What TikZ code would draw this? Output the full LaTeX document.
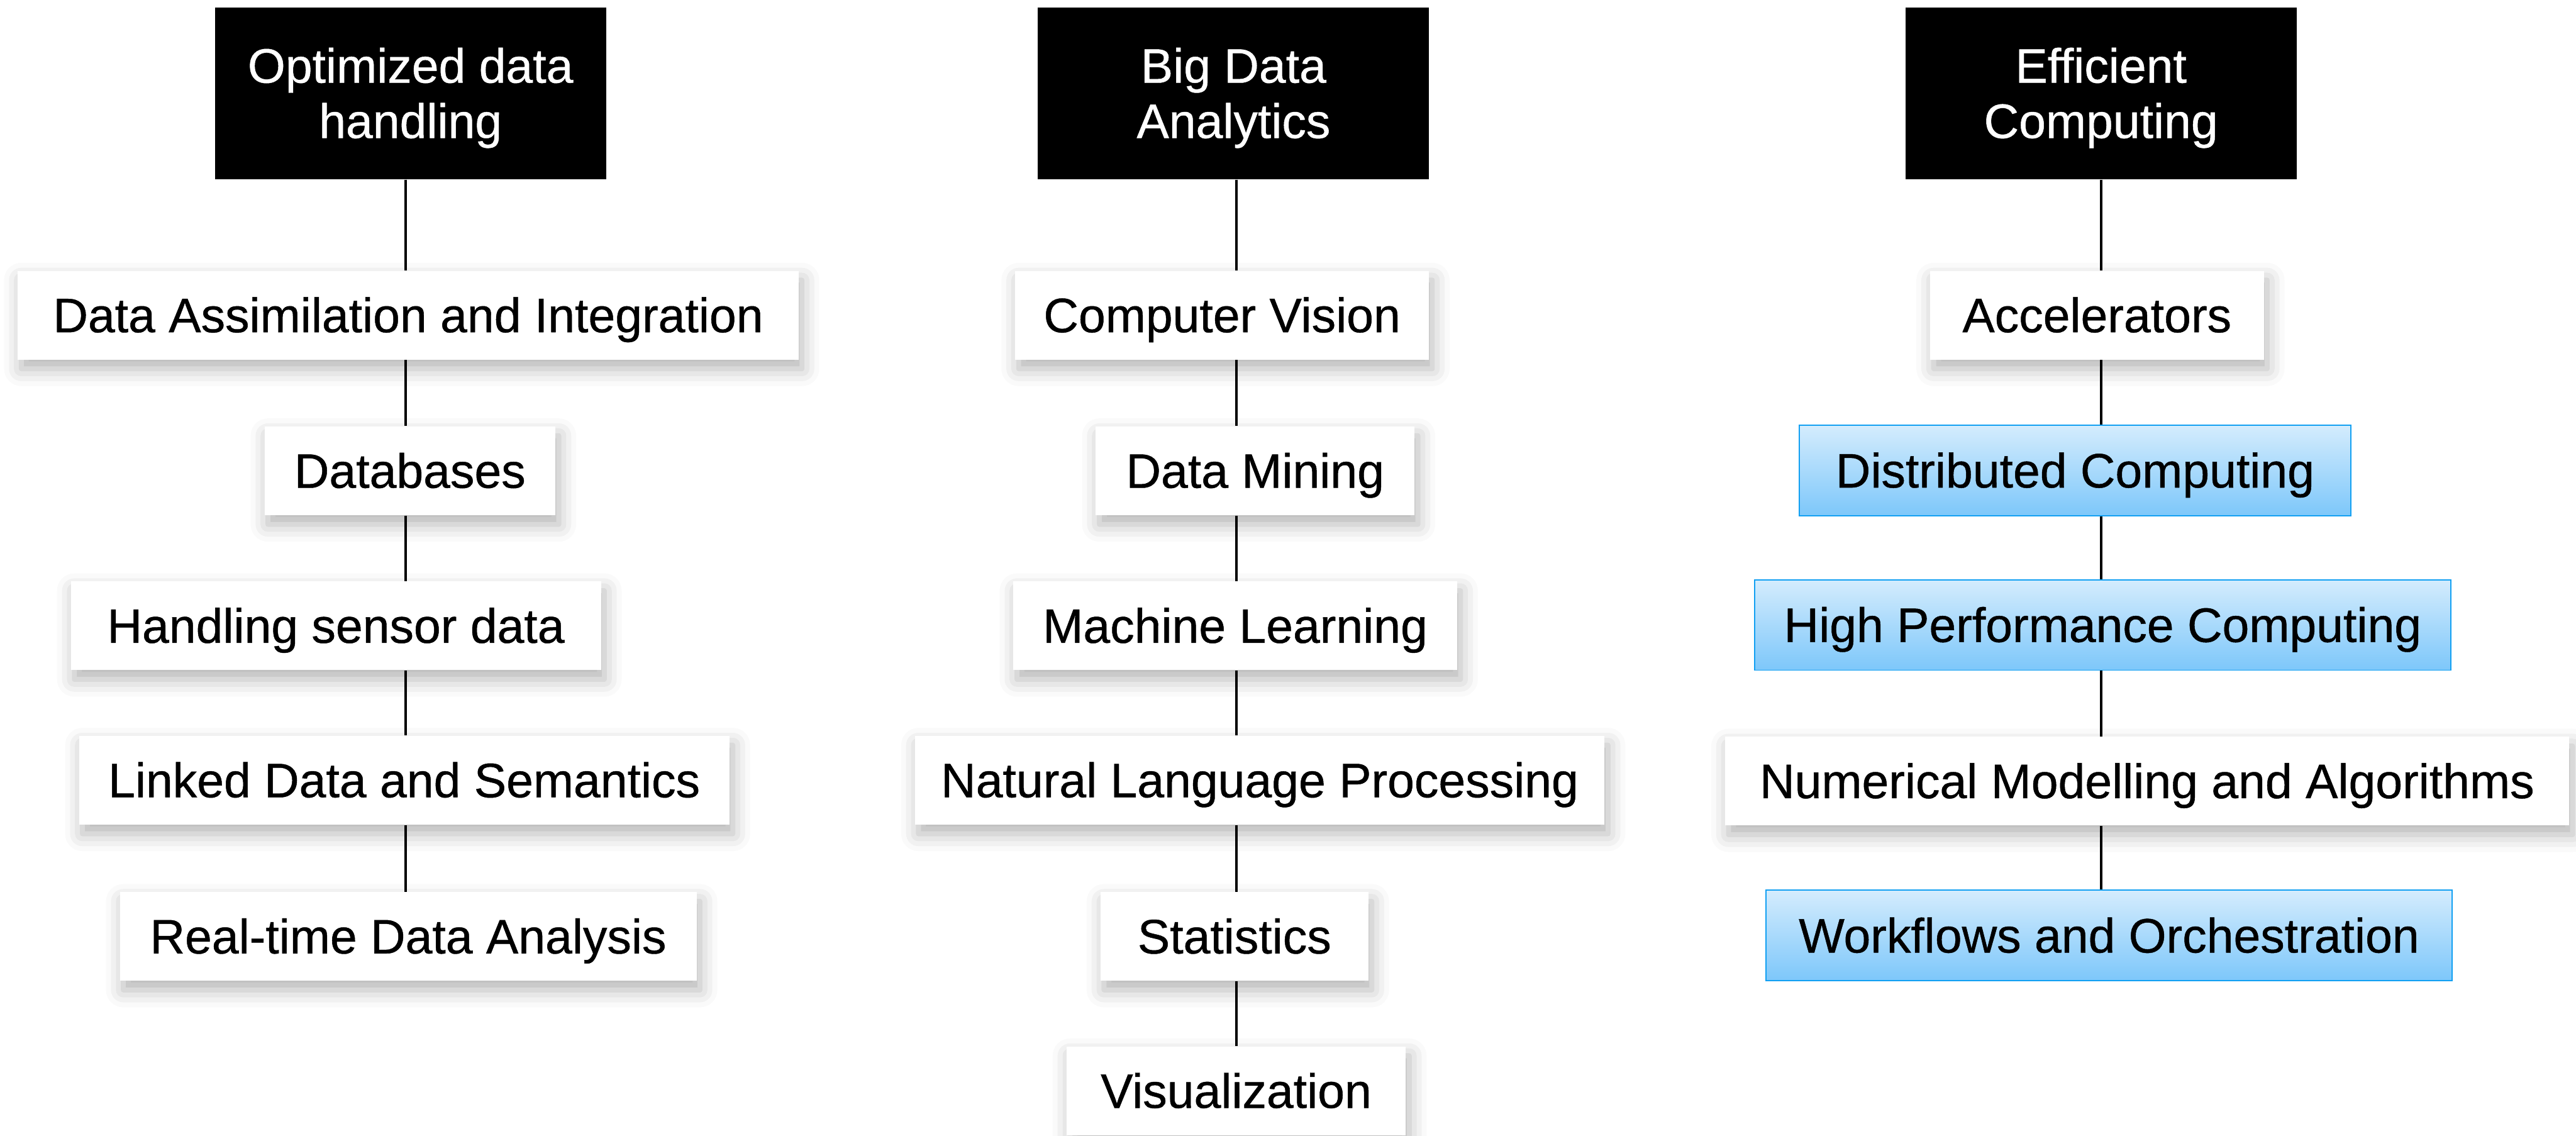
\documentclass[tikz,border=0pt]{standalone}
\usepackage{fontspec}
\setmainfont{Liberation Sans}[FakeBold=0.6]
\usetikzlibrary{shadows.blur}

\definecolor{hlTop}{HTML}{D4ECFD}
\definecolor{hlBot}{HTML}{7DC7FA}
\definecolor{hlEdge}{HTML}{12A0F2}

\tikzset{
  boxfont/.style={font=\fontsize{23.9}{27.3}\selectfont},
  hdr/.style={boxfont, fill=black, text=white, align=center, inner sep=0pt,
    text height=1.55cm, text depth=0cm,
    minimum width=6.79cm, minimum height=2.98cm},
  itemtext/.style={boxfont, inner sep=0pt, text height=0.59cm, text depth=0cm},
  item/.style={itemtext, fill=white, minimum height=1.54cm,
    blur shadow={shadow xshift=0.06cm, shadow yshift=-0.16cm,
      shadow blur radius=0.3cm, shadow opacity=30}},
  hl/.style={itemtext, minimum height=1.57cm,
    top color=hlTop, bottom color=hlBot, draw=hlEdge, line width=0.6pt},
  link/.style={line width=1.15pt, black}
}

\begin{document}
\begin{tikzpicture}
\useasboundingbox (0,0) rectangle (44.71,-19.71);

% vertical guide x positions of the three columns
\coordinate (c1) at (7.04,0);
\coordinate (c2) at (21.46,0);
\coordinate (c3) at (36.47,0);

% column headers
\node[hdr] (h1) at (7.125,-1.62) {Optimized data\\handling};
\node[hdr] (h2) at (21.41,-1.62) {Big Data\\Analytics};
\node[hdr] (h3) at (36.465,-1.62) {Efficient\\Computing};

% column 1
\node[item, minimum width=13.55cm] (a1) at (7.085,-5.47) {Data Assimilation and Integration};
\node[item, minimum width=5.05cm]  (a2) at (7.115,-8.17) {Databases};
\node[item, minimum width=9.20cm]  (a3) at (5.83,-10.86) {Handling sensor data};
\node[item, minimum width=11.29cm] (a4) at (7.015,-13.54) {Linked Data and Semantics};
\node[item, minimum width=10.01cm] (a5) at (7.085,-16.25) {Real-time Data Analysis};

% column 2
\node[item, minimum width=7.18cm]  (b1) at (21.21,-5.47) {Computer Vision};
\node[item, minimum width=5.53cm]  (b2) at (21.785,-8.17) {Data Mining};
\node[item, minimum width=7.70cm]  (b3) at (21.44,-10.86) {Machine Learning};
\node[item, minimum width=11.97cm] (b4) at (21.865,-13.54) {Natural Language Processing};
\node[item, minimum width=4.65cm]  (b5) at (21.425,-16.25) {Statistics};
\node[item, minimum width=5.89cm]  (b6) at (21.455,-18.93) {Visualization};

% column 3
\node[item, minimum width=5.79cm]  (d1) at (36.395,-5.47) {Accelerators};
\node[hl, minimum width=9.57cm]    (d2) at (36.015,-8.165) {Distributed Computing};
\node[hl, minimum width=12.09cm]   (d3) at (36.495,-10.845) {High Performance Computing};
\node[item, minimum width=14.65cm] (d4) at (37.265,-13.555) {Numerical Modelling and Algorithms};
\node[hl, minimum width=11.91cm]   (d5) at (36.605,-16.235) {Workflows and Orchestration};

% connectors
\draw[link] (h1.south -| c1) -- (a1.north -| c1);
\draw[link] (a1.south -| c1) -- (a2.north -| c1);
\draw[link] (a2.south -| c1) -- (a3.north -| c1);
\draw[link] (a3.south -| c1) -- (a4.north -| c1);
\draw[link] (a4.south -| c1) -- (a5.north -| c1);

\draw[link] (h2.south -| c2) -- (b1.north -| c2);
\draw[link] (b1.south -| c2) -- (b2.north -| c2);
\draw[link] (b2.south -| c2) -- (b3.north -| c2);
\draw[link] (b3.south -| c2) -- (b4.north -| c2);
\draw[link] (b4.south -| c2) -- (b5.north -| c2);
\draw[link] (b5.south -| c2) -- (b6.north -| c2);

\draw[link] (h3.south -| c3) -- (d1.north -| c3);
\draw[link] (d1.south -| c3) -- (d2.north -| c3);
\draw[link] (d2.south -| c3) -- (d3.north -| c3);
\draw[link] (d3.south -| c3) -- (d4.north -| c3);
\draw[link] (d4.south -| c3) -- (d5.north -| c3);
\end{tikzpicture}
\end{document}
